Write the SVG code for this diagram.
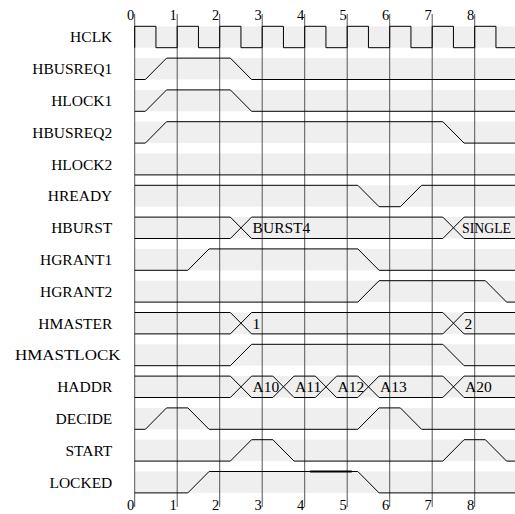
<svg xmlns="http://www.w3.org/2000/svg" width="515" height="514" viewBox="0 0 515 514">
<style>
.bg{fill:#ffffff}
.band{fill:#efefef}
.grid{stroke:#555555;stroke-width:1;fill:none}
.sig{stroke:#000000;stroke-width:1;fill:none}
.lbl{font-family:"Liberation Serif","Times New Roman",serif;font-size:15.5px;fill:#000000;text-anchor:end}
.num{font-family:"Liberation Serif","Times New Roman",serif;font-size:14.5px;fill:#000000;text-anchor:end}
.val{font-family:"Liberation Serif","Times New Roman",serif;font-size:15.5px;fill:#000000}
</style>
<rect class="bg" x="0" y="0" width="515" height="514"/>
<g id="bands">
<rect class="band" x="134.7" y="26.3" width="380.3" height="21.4"/>
<rect class="band" x="134.7" y="58.1" width="380.3" height="21.4"/>
<rect class="band" x="134.7" y="89.9" width="380.3" height="21.4"/>
<rect class="band" x="134.7" y="121.7" width="380.3" height="21.4"/>
<rect class="band" x="134.7" y="153.5" width="380.3" height="21.4"/>
<rect class="band" x="134.7" y="185.3" width="380.3" height="21.4"/>
<rect class="band" x="134.7" y="217.1" width="380.3" height="21.4"/>
<rect class="band" x="134.7" y="248.9" width="380.3" height="21.4"/>
<rect class="band" x="134.7" y="280.7" width="380.3" height="21.4"/>
<rect class="band" x="134.7" y="312.5" width="380.3" height="21.4"/>
<rect class="band" x="134.7" y="344.3" width="380.3" height="21.4"/>
<rect class="band" x="134.7" y="376.1" width="380.3" height="21.4"/>
<rect class="band" x="134.7" y="407.9" width="380.3" height="21.4"/>
<rect class="band" x="134.7" y="439.7" width="380.3" height="21.4"/>
<rect class="band" x="134.7" y="471.5" width="380.3" height="21.4"/>
</g>
<g id="connectors">
<path class="grid" d="M134.7,14V507 M177.2,14V507 M219.7,14V507 M262.2,14V507 M304.7,14V507 M347.2,14V507 M389.7,14V507 M432.2,14V507 M474.7,14V507"/>
</g>
<g id="ticks">
<text class="num" x="134.2" y="20">0</text>
<text class="num" x="176.7" y="20">1</text>
<text class="num" x="219.2" y="20">2</text>
<text class="num" x="261.7" y="20">3</text>
<text class="num" x="304.2" y="20">4</text>
<text class="num" x="346.7" y="20">5</text>
<text class="num" x="389.2" y="20">6</text>
<text class="num" x="431.7" y="20">7</text>
<text class="num" x="474.2" y="20">8</text>
<text class="num" x="134.2" y="510">0</text>
<text class="num" x="176.7" y="510">1</text>
<text class="num" x="219.2" y="510">2</text>
<text class="num" x="261.7" y="510">3</text>
<text class="num" x="304.2" y="510">4</text>
<text class="num" x="346.7" y="510">5</text>
<text class="num" x="389.2" y="510">6</text>
<text class="num" x="431.7" y="510">7</text>
<text class="num" x="474.2" y="510">8</text>
</g>
<g id="HCLK">
<text class="lbl" x="112.3" y="42.3">HCLK</text>
<path class="sig" d="M134.7,47.7V26.3H155.95V47.7H177.2V26.3H198.45V47.7H219.7V26.3H240.95V47.7H262.2V26.3H283.45V47.7H304.7V26.3H325.95V47.7H347.2V26.3H368.45V47.7H389.7V26.3H410.95V47.7H432.2V26.3H453.45V47.7H474.7V26.3H495.95V47.7H515"/>
</g>
<g id="HBUSREQ1">
<text class="lbl" x="112.3" y="74.1">HBUSREQ1</text>
<path class="sig" d="M134.7,79.5H145.33L166.58,58.1H230.33L251.58,79.5H515"/>
</g>
<g id="HLOCK1">
<text class="lbl" x="112.3" y="105.9">HLOCK1</text>
<path class="sig" d="M134.7,111.3H145.33L166.58,89.9H230.33L251.58,111.3H515"/>
</g>
<g id="HBUSREQ2">
<text class="lbl" x="112.3" y="137.7">HBUSREQ2</text>
<path class="sig" d="M134.7,143.1H145.33L166.58,121.7H442.83L464.08,143.1H515"/>
</g>
<g id="HLOCK2">
<text class="lbl" x="112.3" y="169.5">HLOCK2</text>
<path class="sig" d="M134.7,174.9H515"/>
</g>
<g id="HREADY">
<text class="lbl" x="112.3" y="201.3">HREADY</text>
<path class="sig" d="M134.7,185.3H357.83L379.08,206.7H400.33L421.58,185.3H515"/>
</g>
<g id="HBURST">
<text class="lbl" x="112.3" y="233.1">HBURST</text>
<path class="sig" d="M134.7,217.1H230.33L251.58,238.5H442.83L464.08,217.1H515"/>
<path class="sig" d="M134.7,238.5H230.33L251.58,217.1H442.83L464.08,238.5H515"/>
<text class="val" x="252.6" y="233.1">BURST4</text>
<text class="val" x="462" y="233.1" style="font-size:13.8px">SINGLE</text>
</g>
<g id="HGRANT1">
<text class="lbl" x="112.3" y="264.9">HGRANT1</text>
<path class="sig" d="M134.7,270.3H187.83L209.08,248.9H357.83L379.08,270.3H515"/>
</g>
<g id="HGRANT2">
<text class="lbl" x="112.3" y="296.7">HGRANT2</text>
<path class="sig" d="M134.7,302.1H357.83L379.08,280.7H485.33L506.58,302.1H515"/>
</g>
<g id="HMASTER">
<text class="lbl" x="112.3" y="328.5">HMASTER</text>
<path class="sig" d="M134.7,312.5H230.33L251.58,333.9H442.83L464.08,312.5H515"/>
<path class="sig" d="M134.7,333.9H230.33L251.58,312.5H442.83L464.08,333.9H515"/>
<text class="val" x="252.6" y="328.5">1</text>
<text class="val" x="464.5" y="328.5">2</text>
</g>
<g id="HMASTLOCK">
<text class="lbl" x="15" y="360.3" style="text-anchor:start" textLength="105.5" lengthAdjust="spacingAndGlyphs">HMASTLOCK</text>
<path class="sig" d="M134.7,365.7H230.33L251.58,344.3H442.83L464.08,365.7H515"/>
</g>
<g id="HADDR">
<text class="lbl" x="112.3" y="392.1">HADDR</text>
<path class="sig" d="M134.7,376.1H230.33L251.58,397.5H272.83L294.08,376.1H315.33L336.58,397.5H357.83L379.08,376.1H442.83L464.08,397.5H515"/>
<path class="sig" d="M134.7,397.5H230.33L251.58,376.1H272.83L294.08,397.5H315.33L336.58,376.1H357.83L379.08,397.5H442.83L464.08,376.1H515"/>
<text class="val" x="252.6" y="392.1">A10</text>
<text class="val" x="295.1" y="392.1">A11</text>
<text class="val" x="337.6" y="392.1">A12</text>
<text class="val" x="380.1" y="392.1">A13</text>
<text class="val" x="465.1" y="392.1">A20</text>
</g>
<g id="DECIDE">
<text class="lbl" x="112.3" y="423.9">DECIDE</text>
<path class="sig" d="M134.7,429.3H145.33L166.58,407.9H187.83L209.08,429.3H357.83L379.08,407.9H400.33L421.58,429.3H515"/>
</g>
<g id="START">
<text class="lbl" x="112.3" y="455.7">START</text>
<path class="sig" d="M134.7,461.1H230.33L251.58,439.7H272.83L294.08,461.1H442.83L464.08,439.7H485.33L506.58,461.1H515"/>
</g>
<g id="LOCKED">
<text class="lbl" x="112.3" y="487.5">LOCKED</text>
<path class="sig" d="M134.7,492.9H187.83L209.08,471.5H357.83L379.08,492.9H515"/>
<path class="sig" style="stroke-width:2" d="M310,471.5H351.7"/>
</g>
</svg>
